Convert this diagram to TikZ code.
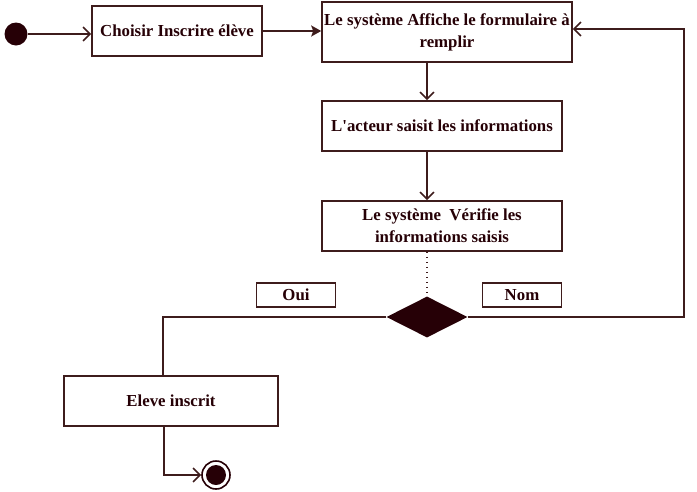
\documentclass[tikz,border=0pt]{standalone}
\usepackage{fontspec}
\setmainfont{Liberation Serif}
\usetikzlibrary{arrows.meta,shapes.geometric}
\definecolor{ink}{RGB}{38,0,6}
\definecolor{wire}{RGB}{62,28,28}
\begin{document}
\begin{tikzpicture}
    [x=1pt,y=-1pt,
    action/.style={draw=wire,line width=1.6pt,fill=white,minimum height=50pt,
      align=center,inner sep=1pt,text=ink,
      font=\bfseries\fontsize{16.8}{22}\selectfont},
    guard/.style={draw=wire,line width=1.6pt,minimum width=79pt,minimum height=24pt,
      text=ink,font=\bfseries\fontsize{16.8}{20}\selectfont},
    flow/.style={draw=wire,line width=1.6pt,-{Straight Barb[length=7pt,width=14pt]}},
    flowfilled/.style={draw=wire,line width=1.6pt,-{Stealth[length=10pt,width=11pt,inset=2pt]}}]
    \useasboundingbox (0,0) rectangle (697,491);
    \node[circle,fill=ink,minimum size=23pt,inner sep=0pt] (debut) at (16,34) {};
    \node[action,minimum width=170pt] (choisir) at (177,31) {Choisir Inscrire élève};
    \node[action,minimum width=250pt,minimum height=60pt] (affiche) at (447,32)
      {Le système Affiche le formulaire à\\remplir};
    \node[action,minimum width=240pt] (saisit) at (442,126) {L\textquotesingle acteur saisit les informations};
    \node[action,minimum width=240pt] (verifie) at (442,226)
      {Le système\ \ Vérifie les\\informations saisis};
    \node[diamond,aspect=2,fill=ink,minimum width=81pt,minimum height=41pt,inner sep=0pt]
      (choix) at (427,317) {};
    \node[guard] (oui) at (296,295) {Oui};
    \node[guard] (nom) at (522,295) {Nom};
    \node[action,minimum width=214pt] (inscrit) at (171,401) {Eleve inscrit};
    \node[circle,draw=ink,line width=1.6pt,minimum size=28pt,inner sep=0pt] (fin) at (216,475) {};
    \node[circle,fill=ink,minimum size=20pt,inner sep=0pt] (finpoint) at (fin) {};
    % transitions
    \draw[flow] (debut) -- (debut -| choisir.west);
    \draw[flowfilled] (choisir.east) -- (choisir.east -| affiche.west);
    \draw[flow] (affiche.south -| choix) -- (saisit.north -| choix);
    \draw[flow] (saisit.south -| choix) -- (verifie.north -| choix);
    \draw[wire,line width=1.6pt,dash pattern=on 1.6pt off 3.4pt] (verifie.south -| choix) -- (choix.north);
    \draw[wire,line width=1.6pt] (choix.west) -| ([xshift=-8pt]inscrit.north);
    \draw[flow] (choix.east) -| ([xshift=111pt,yshift=3pt]affiche.east)
      -- ([yshift=3pt]affiche.east);
    \draw[flow] ([xshift=-7pt]inscrit.south) |- (fin.west);
\end{tikzpicture}
\end{document}
